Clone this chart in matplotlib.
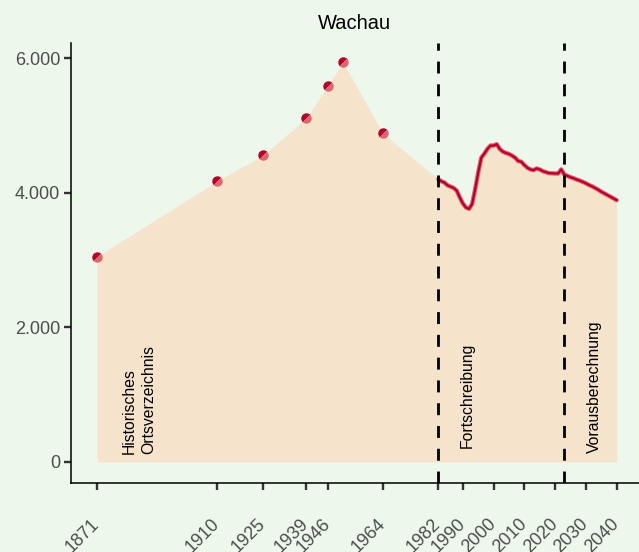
import matplotlib.pyplot as plt
import numpy as np
from matplotlib.markers import MarkerStyle
from matplotlib.transforms import Affine2D
from matplotlib.ticker import FuncFormatter

# census points (Historisches Ortsverzeichnis)
census_years = [1871, 1910, 1925, 1939, 1946, 1951, 1964]
census_pop = [3050, 4170, 4555, 5105, 5580, 5940, 4880]

# yearly update (Fortschreibung) 1982-2022
update_years = list(range(1982, 2023))
update_pop = [4200, 4170, 4150, 4110, 4090, 4070, 4030, 3930, 3840, 3780,
              3760, 3830, 4050, 4300, 4520, 4580, 4650, 4700, 4700, 4720,
              4650, 4610, 4590, 4575, 4550, 4520, 4470, 4460, 4410, 4370,
              4345, 4335, 4360, 4345, 4320, 4305, 4290, 4288, 4285, 4285,
              4345]

# projection (Vorausberechnung) 2023-2040
proj_years = list(range(2023, 2041))
proj_pop = [4270, 4250, 4230, 4215, 4195, 4180, 4160, 4140, 4115, 4095,
            4070, 4045, 4015, 3990, 3965, 3940, 3915, 3890]

tick_years = [1871, 1910, 1925, 1939, 1946, 1964, 1982, 1990, 2000, 2010, 2020, 2030, 2040]
breaks = [1982, 2023]

bg = '#edf7ec'
fill_col = '#f6e3cc'
dark_red = '#b5002a'
light_red = '#de6470'
font = 'Liberation Sans'

fig = plt.figure(figsize=(6.39, 5.52), dpi=100, facecolor=bg)
ax = fig.add_axes([0.111, 0.125, 0.889, 0.797], facecolor=bg)

all_years = census_years + update_years + proj_years
all_pop = census_pop + update_pop + proj_pop
ax.fill_between(all_years, 0, all_pop, color=fill_col, lw=0, zorder=1)

line_years = update_years + proj_years
line_pop = update_pop + proj_pop
ax.plot(line_years, line_pop, color=light_red, lw=3.2, zorder=3, solid_capstyle='round')
ax.plot(line_years, line_pop, color=dark_red, lw=1.6, zorder=4)

mk = MarkerStyle('o', fillstyle='left', transform=Affine2D().rotate_deg(-45))
ax.plot(census_years, census_pop, ls='none', marker=mk, markersize=7.5,
        markerfacecolor=dark_red, markerfacecoloralt=light_red, markeredgewidth=0, zorder=5)

for b in breaks:
    ax.axvline(b, color='black', lw=2.0, dashes=(4.3, 3.9), zorder=6)

ax.text(1884.7, 120, 'Historisches\nOrtsverzeichnis', rotation=90, ha='center', va='bottom',
        multialignment='left', linespacing=1.35, fontsize=11.3, family=font, zorder=7)
ax.text(1991.3, 200, 'Fortschreibung', rotation=90, ha='center', va='bottom',
        fontsize=11.3, family=font, zorder=7)
ax.text(2032.8, 130, 'Vorausberechnung', rotation=90, ha='center', va='bottom',
        fontsize=11.3, family=font, zorder=7)

ax.set_xlim(1862.5, 2047.3)
ax.set_ylim(-313, 6223)
ax.set_yticks([0, 2000, 4000, 6000])
ax.yaxis.set_major_formatter(FuncFormatter(lambda v, p: f'{int(v):,}'.replace(',', '.')))
ax.set_xticks(tick_years)
ax.set_xticklabels([str(y) for y in tick_years], rotation=45, ha='right', va='center',
                   rotation_mode='anchor')

for s in ['top', 'right']:
    ax.spines[s].set_visible(False)
for s in ['left', 'bottom']:
    ax.spines[s].set_linewidth(1.1)
    ax.spines[s].set_color('black')

ax.tick_params(axis='both', length=4.8, width=1.7, color='#333333', labelcolor='#4d4d4d',
               labelsize=13)
ax.tick_params(axis='x', pad=23)
ax.tick_params(axis='y', pad=3)
for lbl in ax.get_xticklabels() + ax.get_yticklabels():
    lbl.set_family(font)

ax.set_title('Wachau', fontsize=14.5, family=font, pad=10)

plt.savefig('out.png', dpi=100, facecolor=bg)
